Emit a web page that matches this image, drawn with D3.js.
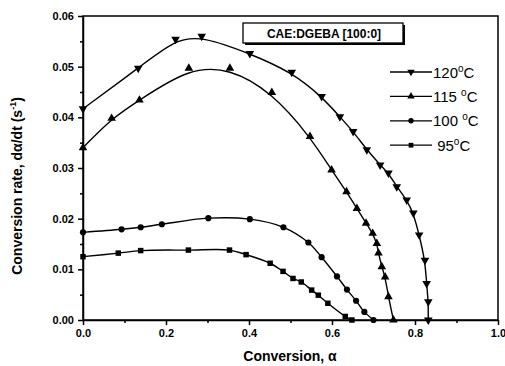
<!DOCTYPE html>
<html>
<head>
<meta charset="utf-8">
<script src="https://cdn.jsdelivr.net/npm/d3@7"></script>
<style>
  body { margin: 0; background: #fff; }
  svg { display: block; font-family: "Liberation Sans", Arial, sans-serif; }
  .tick text { font-weight: bold; font-size: 11px; }
</style>
</head>
<body>
<svg id="chart" width="505" height="366"></svg>
<script>
// conversion alpha / rate d(alpha)/dt
const s120 = [[0, 0.0417], [0.133, 0.0497], [0.223, 0.0554], [0.286, 0.0560], [0.402, 0.0526],
  [0.503, 0.0489], [0.575, 0.0441], [0.619, 0.0401], [0.651, 0.0372], [0.684, 0.0336],
  [0.716, 0.0306], [0.736, 0.0290], [0.756, 0.0263], [0.780, 0.0237], [0.796, 0.0211],
  [0.810, 0.0168], [0.824, 0.0118], [0.828, 0.0072], [0.832, 0.0036], [0.832, 0.0]]
const s115 = [[0, 0.0340], [0.069, 0.0398], [0.136, 0.0434], [0.255, 0.0497], [0.354, 0.0497],
  [0.455, 0.0449], [0.547, 0.0362], [0.599, 0.0296], [0.635, 0.0253], [0.660, 0.0220],
  [0.682, 0.0191], [0.698, 0.0171], [0.708, 0.0151], [0.712, 0.0132], [0.720, 0.0105],
  [0.728, 0.0085], [0.736, 0.0046], [0.748, 0.0]]
const s100 = [[0, 0.0173], [0.093, 0.0179], [0.139, 0.0183], [0.190, 0.0189], [0.302, 0.0201],
  [0.402, 0.0199], [0.483, 0.0183], [0.543, 0.0153], [0.575, 0.0124], [0.612, 0.0086],
  [0.636, 0.0060], [0.658, 0.0038], [0.678, 0.0016], [0.700, 0.0]]
const s95 = [[0, 0.0125], [0.085, 0.0132], [0.139, 0.0137], [0.254, 0.0138], [0.353, 0.0138],
  [0.393, 0.0129], [0.451, 0.0112], [0.482, 0.0096], [0.506, 0.0082], [0.526, 0.0075],
  [0.551, 0.0059], [0.567, 0.0049], [0.590, 0.0033], [0.632, 0.0007], [0.648, 0.0]]

const seriesNames = ['120', '115 ', '100 ', ' 95']
const seriesData = [s120, s115, s100, s95]
const xTicks = [0, 0.2, 0.4, 0.6, 0.8, 1.0]
const yTicks = [0, 0.01, 0.02, 0.03, 0.04, 0.05, 0.06]
const boxLabel = 'CAE:DGEBA [100:0]'

const svg = d3.select('#chart')
const plotL = 83, plotR = 498, plotT = 16, plotB = 320

const x = d3.scaleLinear().domain([0, 1]).range([plotL, plotR])
const y = d3.scaleLinear().domain([0, 0.06]).range([plotB, plotT])

const shapes = [
  {type: d3.symbolTriangle, rotate: 180, size: 32},
  {type: d3.symbolTriangle, rotate: 0, size: 32},
  {type: d3.symbolCircle, rotate: 0, size: 30},
  {type: d3.symbolSquare, rotate: 0, size: 30}
]
const curves = [d3.curveBasis, d3.curveBasis, d3.curveCatmullRom, d3.curveCatmullRom]

// frame
svg.append('rect')
  .attr('x', plotL).attr('y', plotT)
  .attr('width', plotR - plotL).attr('height', plotB - plotT)
  .attr('fill', 'none').attr('stroke', '#000').attr('stroke-width', 1.5)

// minor ticks
svg.append('g')
  .attr('transform', `translate(0,${plotB})`)
  .call(d3.axisBottom(x).tickValues(d3.range(0.1, 1, 0.2)).tickSize(3).tickFormat(''))
  .call(g => g.select('.domain').remove())
svg.append('g')
  .attr('transform', `translate(${plotL},0)`)
  .call(d3.axisLeft(y).tickValues(d3.range(0.005, 0.06, 0.01)).tickSize(3).tickFormat(''))
  .call(g => g.select('.domain').remove())

svg.append('g')
  .attr('transform', `translate(0,${plotB})`)
  .call(d3.axisBottom(x).tickValues(xTicks).tickSize(5).tickSizeOuter(0).tickPadding(4).tickFormat(d3.format('.1f')))
svg.append('g')
  .attr('transform', `translate(${plotL},0)`)
  .call(d3.axisLeft(y).tickValues(yTicks).tickSize(5).tickSizeOuter(0).tickPadding(4).tickFormat(d3.format('.2f')))
svg.selectAll('.domain, .tick line').attr('stroke-width', 1.5)

// curves and markers
seriesData.forEach((data, i) => {
  svg.append('path')
    .datum(data)
    .attr('fill', 'none')
    .attr('stroke', '#000')
    .attr('stroke-width', 1.4)
    .attr('d', d3.line().x(d => x(d[0])).y(d => y(d[1])).curve(curves[i]))

  const sh = shapes[i]
  svg.append('g').selectAll('path')
    .data(data)
    .join('path')
    .attr('transform', d => `translate(${x(d[0])},${y(d[1])}) rotate(${sh.rotate})`)
    .attr('d', d3.symbol().type(sh.type).size(sh.size))
    .attr('fill', '#000')
})

// box label
svg.append('rect')
  .attr('x', 245).attr('y', 25).attr('width', 160).attr('height', 20)
  .attr('fill', '#000')
svg.append('rect')
  .attr('x', 243).attr('y', 23).attr('width', 160).attr('height', 20)
  .attr('fill', '#fff').attr('stroke', '#000').attr('stroke-width', 1.3)
svg.append('text')
  .attr('x', 324).attr('y', 38)
  .attr('text-anchor', 'middle')
  .attr('font-size', 12).attr('font-weight', 'bold')
  .text(boxLabel)

// legend
const legend = svg.append('g')
seriesNames.forEach((name, i) => {
  const ly = 72 + i * 24.4
  const g = legend.append('g').attr('transform', `translate(0,${ly})`)
  g.append('line').attr('x1', 390).attr('x2', 432).attr('y1', 0).attr('y2', 0)
    .attr('stroke', '#000').attr('stroke-width', 1.3)
  g.append('path')
    .attr('transform', `translate(411,0) rotate(${shapes[i].rotate})`)
    .attr('d', d3.symbol().type(shapes[i].type).size(shapes[i].size * 0.75))
  const t = g.append('text').attr('x', 433).attr('y', 5.5).attr('font-size', 15)
    .attr('xml:space', 'preserve')
  t.append('tspan').text(name)
  t.append('tspan').attr('font-size', 10).attr('dy', -6).text('o')
  t.append('tspan').attr('dy', 6).text('C')
})

// axis titles
svg.append('text')
  .attr('x', 290).attr('y', 361)
  .attr('text-anchor', 'middle')
  .attr('font-size', 14).attr('font-weight', 'bold')
  .text('Conversion, α')

const yl = svg.append('text')
  .attr('transform', 'translate(22,186) rotate(-90)')
  .attr('text-anchor', 'middle')
  .attr('font-size', 14).attr('font-weight', 'bold')
yl.append('tspan').text('Conversion rate, dα/dt (s')
yl.append('tspan').attr('font-size', 9).attr('dy', -6).text('-1')
yl.append('tspan').attr('dy', 6).text(')')
</script>
</body>
</html>
